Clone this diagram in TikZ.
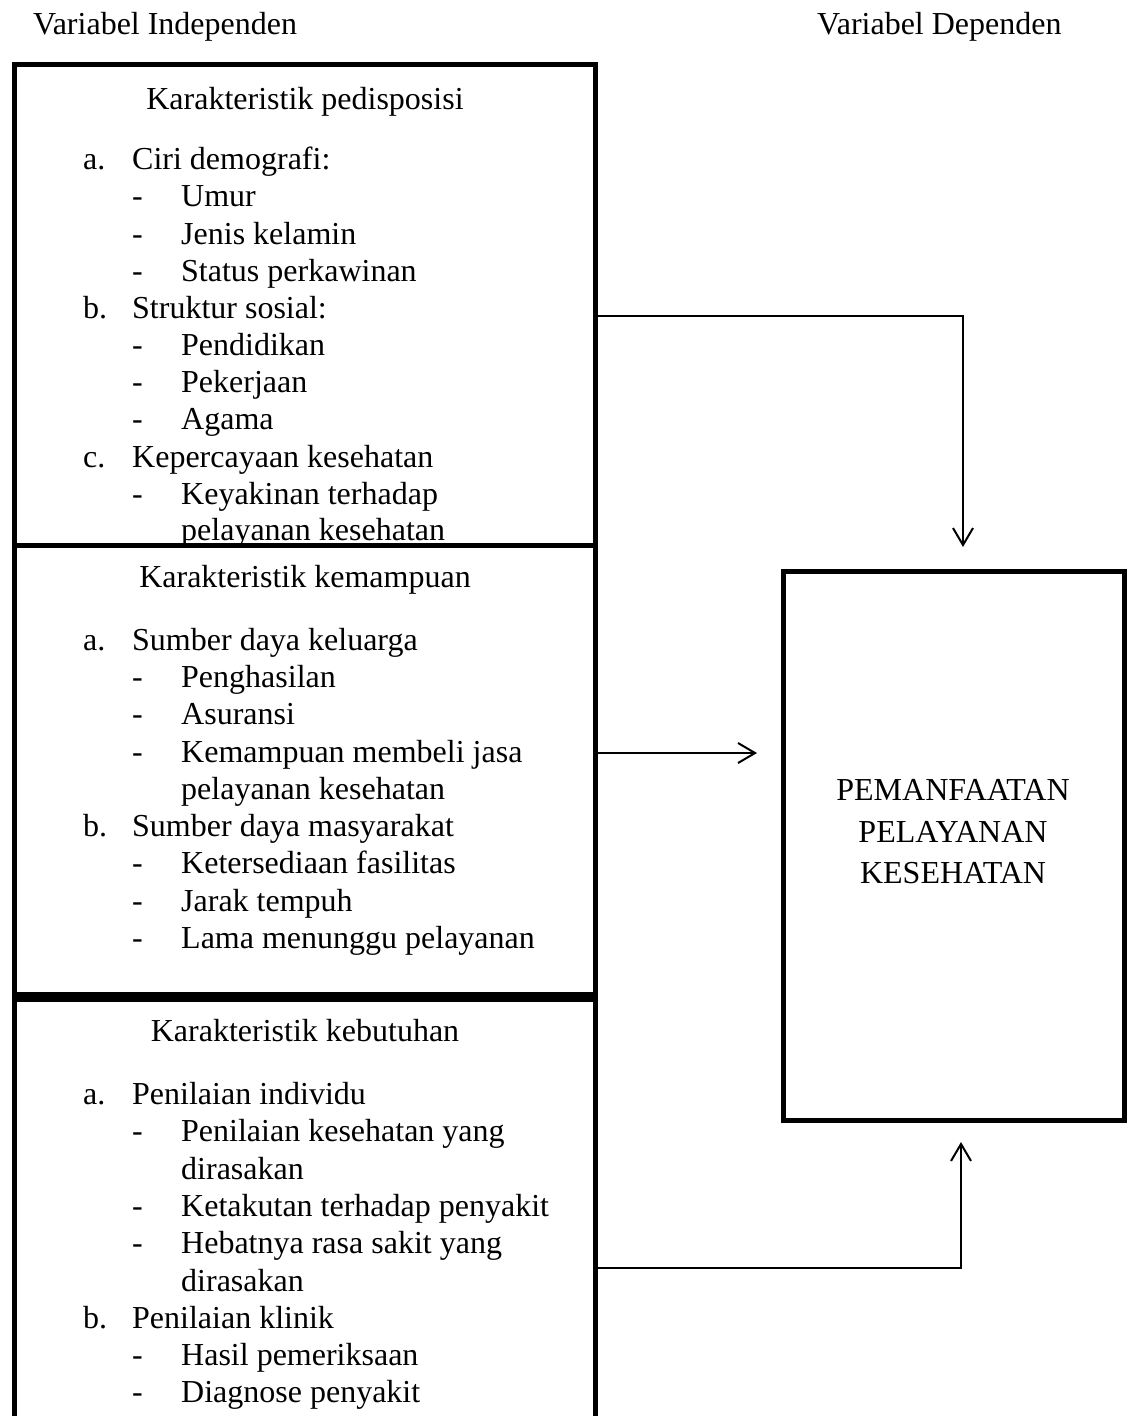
\documentclass[tikz,border=0pt]{standalone}
\usepackage{fontspec}
\setmainfont{Liberation Serif}
\usetikzlibrary{arrows.meta}
\tikzset{
  box/.style={draw, line width=5pt, rectangle, inner sep=0pt},
  ln/.style={anchor=west, inner sep=0pt, text height=23pt, text depth=5pt},
  hd/.style={ln, anchor=center},
  arr/.style={-{Straight Barb[length=17pt,width=20pt]}, line width=2pt},
}
\begin{document}
\begin{tikzpicture}[x=1pt,y=-1pt,font=\fontsize{32}{37.6}\selectfont,line join=miter]
\useasboundingbox (0,0) rectangle (1128,1416);
% judul kolom
\node[ln] (indep) at (33,25) {Variabel Independen};
\node[ln] (dep) at (817,25) {Variabel Dependen};
% judul kotak
\foreach \ty/\tname/\ttext in {100/hpred/Karakteristik pedisposisi,
  578/hmamp/Karakteristik kemampuan,1032/hbutuh/Karakteristik kebutuhan}
  \node[hd] (\tname) at (305,\ty) {\ttext};
% butir a. b. c.
\foreach \ty/\tlab/\ttext in {160/a./Ciri demografi:,309/b./Struktur sosial:,
  458/c./Kepercayaan kesehatan,641/a./Sumber daya keluarga,
  827/b./Sumber daya masyarakat,1095/a./Penilaian individu,
  1319/b./Penilaian klinik}{
  \node[ln] (lab\ty) at (83,\ty) {\tlab};
  \node[ln] (txt\ty) at (132,\ty) {\ttext};
}
% sub butir
\foreach \ty in {197,235,272,346,383,420,495,678,715,753,864,902,939,
  1132,1207,1244,1356,1393}
  \node[ln] (dash\ty) at (132,\ty) {-};
\foreach \ty/\ttext in {197/Umur,235/Jenis kelamin,272/Status perkawinan,
  346/Pendidikan,383/Pekerjaan,420/Agama,495/Keyakinan terhadap,
  531/pelayanan kesehatan,678/Penghasilan,715/Asuransi,
  753/Kemampuan membeli jasa,790/pelayanan kesehatan,
  864/Ketersediaan fasilitas,902/Jarak tempuh,939/Lama menunggu pelayanan,
  1132/Penilaian kesehatan yang,1170/dirasakan,
  1207/Ketakutan terhadap penyakit,1244/Hebatnya rasa sakit yang,
  1282/dirasakan,1356/Hasil pemeriksaan,1393/Diagnose penyakit}
  \node[ln] (item\ty) at (181,\ty) {\ttext};
% kotak
\node[box, minimum width=581pt, minimum height=481pt] (pred) at (305,305) {};
\node[box, minimum width=581pt, minimum height=449pt] (mamp) at (305,770) {};
\node[box, minimum width=581pt, minimum height=441pt] (butuh) at (305,1220) {};
\node[box, minimum width=341pt, minimum height=549pt] (guna) at (954,846) {};
\node[align=center, inner sep=0pt, font=\fontsize{32}{41.5}\selectfont]
  (gunatxt) at (953,832) {PEMANFAATAN\\PELAYANAN\\KESEHATAN};
% panah
\coordinate (belok1) at (963,316);
\coordinate (ujung1) at (963,547);
\coordinate (ujung2) at (757,753);
\coordinate (belok3) at (961,1268);
\coordinate (ujung3) at (961,1142);
\draw[arr] (pred.east |- belok1) -- (belok1) -- (ujung1);
\draw[arr] (mamp.east |- ujung2) -- (ujung2);
\draw[arr] (butuh.east |- belok3) -- (belok3) -- (ujung3);
\end{tikzpicture}
\end{document}
